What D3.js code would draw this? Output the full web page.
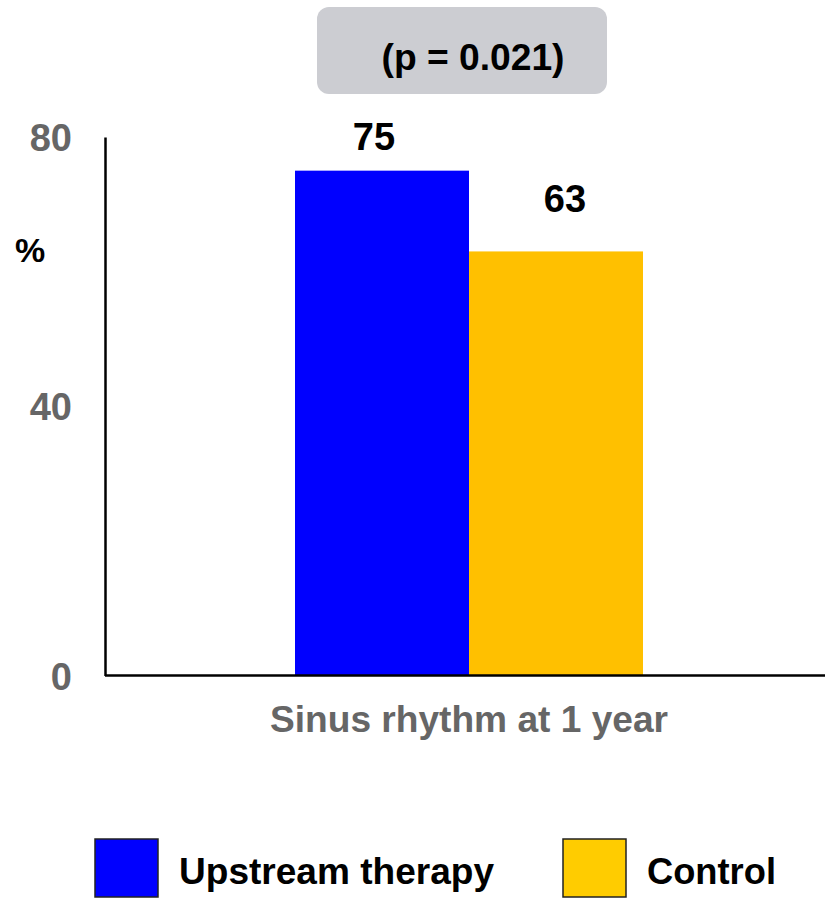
<!DOCTYPE html>
<html>
<head>
<meta charset="utf-8">
<script src="https://cdn.jsdelivr.net/npm/d3@7"></script>
<style>
  body { margin: 0; background: #ffffff; }
  svg { display: block; }
</style>
</head>
<body>
<div id="chart"></div>
<script>
// data
const categories = ["Sinus rhythm at 1 year"];
const seriesNames = ["Upstream therapy", "Control"];
const seriesValues = [[75], [63]];
const yTicks = [0, 40, 80];
const pLabel = "(p = 0.021)";

const width = 825, height = 898;
const font = "'Liberation Sans', Arial, Helvetica, sans-serif";
const barColors = ["#0000ff", "#ffc000"];
const legendColors = ["#0000ff", "#ffcc00"];

const plot = { left: 105, right: 825, top: 137, bottom: 675.5 };

const svg = d3.select("#chart")
  .append("svg")
  .attr("width", width)
  .attr("height", height);

const x0 = d3.scaleBand()
  .domain(categories)
  .range([plot.left, 833])
  .paddingInner(0)
  .paddingOuter(0.546);

const x1 = d3.scaleBand()
  .domain(seriesNames)
  .range([0, x0.bandwidth()]);

const y = d3.scaleLinear()
  .domain([0, 80])
  .range([plot.bottom, plot.top]);

// bars
const groups = svg.append("g")
  .selectAll("g.group")
  .data(categories)
  .join("g")
  .attr("class", "group")
  .attr("transform", d => `translate(${x0(d)},0)`);

groups.selectAll("rect")
  .data((c, ci) => seriesNames.map((s, si) => ({ s, si, v: seriesValues[si][ci] })))
  .join("rect")
  .attr("x", d => x1(d.s))
  .attr("y", d => y(d.v))
  .attr("width", x1.bandwidth())
  .attr("height", d => y(0) - y(d.v))
  .attr("fill", d => barColors[d.si]);

// value labels (offsets as in the original slide)
const labelShift = [-8, 9];
const labelLift = [21, 39];
groups.selectAll("text.value")
  .data((c, ci) => seriesNames.map((s, si) => ({ s, si, v: seriesValues[si][ci] })))
  .join("text")
  .attr("class", "value")
  .attr("x", d => x1(d.s) + x1.bandwidth() / 2 + labelShift[d.si])
  .attr("y", d => y(d.v) - labelLift[d.si])
  .attr("text-anchor", "middle")
  .attr("font-family", font)
  .attr("font-weight", "bold")
  .attr("font-size", 38)
  .attr("fill", "#000")
  .text(d => d.v);

// y axis
const yAxis = svg.append("g")
  .attr("transform", `translate(${plot.left},0)`)
  .call(d3.axisLeft(y).tickValues(yTicks).tickSize(0).tickPadding(33));
yAxis.select(".domain").attr("stroke", "#000").attr("stroke-width", 2.5);
yAxis.selectAll("text")
  .attr("font-family", font)
  .attr("font-weight", "bold")
  .attr("font-size", 38)
  .attr("fill", "#666666")
  .attr("dy", "0.36em");

// baseline
svg.append("line")
  .attr("x1", plot.left)
  .attr("x2", plot.right)
  .attr("y1", y(0))
  .attr("y2", y(0))
  .attr("stroke", "#000")
  .attr("stroke-width", 2.5);

// y label
svg.append("text")
  .attr("x", 30)
  .attr("y", 262)
  .attr("text-anchor", "middle")
  .attr("font-family", font)
  .attr("font-weight", "bold")
  .attr("font-size", 34)
  .attr("fill", "#000")
  .text("%");

// category label
svg.append("g")
  .selectAll("text")
  .data(categories)
  .join("text")
  .attr("x", d => x0(d) + x0.bandwidth() / 2)
  .attr("y", 732)
  .attr("text-anchor", "middle")
  .attr("font-family", font)
  .attr("font-weight", "bold")
  .attr("font-size", 37)
  .attr("fill", "#666666")
  .attr("textLength", 398)
  .attr("lengthAdjust", "spacingAndGlyphs")
  .text(d => d);

// p-value box
svg.append("rect")
  .attr("x", 317)
  .attr("y", 7)
  .attr("width", 290)
  .attr("height", 87)
  .attr("rx", 12)
  .attr("fill", "#cccdd2");
svg.append("text")
  .attr("x", 473)
  .attr("y", 70)
  .attr("text-anchor", "middle")
  .attr("font-family", font)
  .attr("font-weight", "bold")
  .attr("font-size", 37)
  .attr("fill", "#000")
  .attr("textLength", 183)
  .attr("lengthAdjust", "spacingAndGlyphs")
  .text(pLabel);

// legend
const legendX = [95, 563];
const legend = svg.append("g")
  .selectAll("g.legend")
  .data(seriesNames)
  .join("g")
  .attr("class", "legend")
  .attr("transform", (d, i) => `translate(${legendX[i]},839)`);
legend.append("rect")
  .attr("width", 63)
  .attr("height", 58)
  .attr("fill", (d, i) => legendColors[i])
  .attr("stroke", "#222")
  .attr("stroke-width", 1.5);
legend.append("text")
  .attr("x", 84)
  .attr("y", 45)
  .attr("font-family", font)
  .attr("font-weight", "bold")
  .attr("font-size", 37)
  .attr("fill", "#000")
  .attr("textLength", (d, i) => [315, 129][i])
  .attr("lengthAdjust", "spacingAndGlyphs")
  .text(d => d);
</script>
</body>
</html>
